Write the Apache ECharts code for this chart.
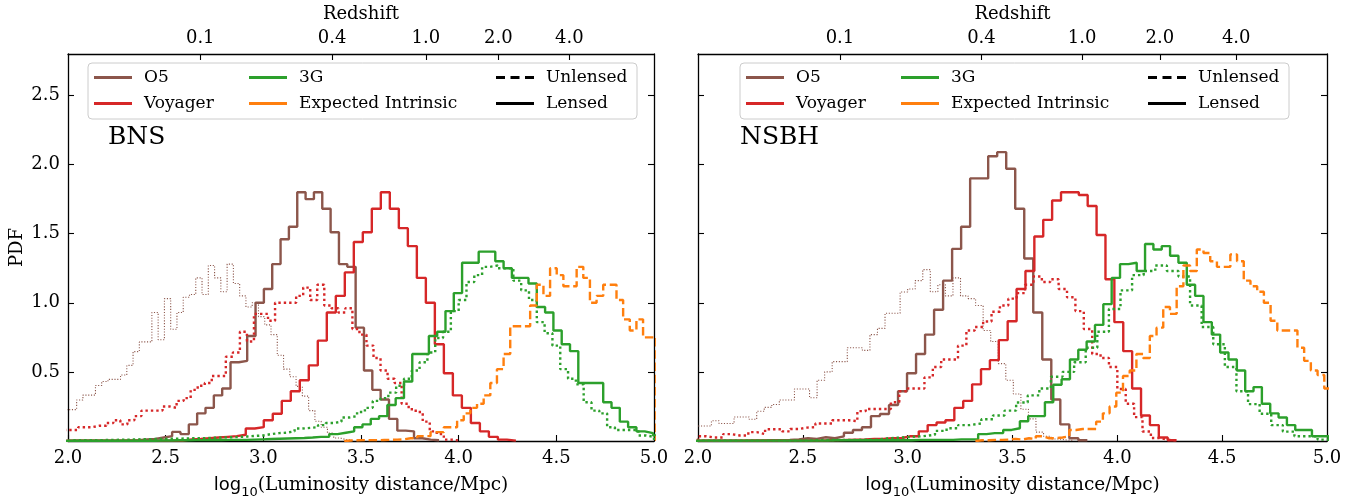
<!DOCTYPE html>
<html><head><meta charset="utf-8">
<script src="https://cdn.jsdelivr.net/npm/echarts@6/dist/echarts.min.js"></script>
<style>html,body{margin:0;padding:0;background:#fff}#c{width:1364px;height:504px}</style>
</head><body><div id="c"></div><script>
// ---------- axis / tick data ----------
const yTickValues = [0.5, 1.0, 1.5, 2.0, 2.5];
const redshiftLabels = ['0.1', '0.4', '1.0', '2.0', '4.0'];
const redshiftPositions = [2.677, 3.352, 3.832, 4.203, 4.567];
const panelNames = ['BNS', 'NSBH'];

// ---------- histogram data: bins = [first edge, bin width], values = PDF per bin ----------
// BNS
const bnsO5LensedBins = [1.978, 0.0427];
const bnsO5Lensed = [0.002,0.002,0.002,0.002,0.002,0.002,0.002,0.004,0.006,0.012,0.015,0.025,0.035,0.066,0.05,0.12,0.20,0.24,0.33,0.38,0.57,0.58,0.76,1.0,1.10,1.28,1.46,1.55,1.80,1.75,1.80,1.68,1.51,1.28,1.26,0.82,0.51,0.37,0.30,0.16,0.075,0.07,0.02,0.01,0.005];
const bnsO5UnlensedBins = [1.98, 0.0321];
const bnsO5Unlensed = [0.227,0.227,0.297,0.332,0.332,0.402,0.43,0.446,0.446,0.477,0.547,0.647,0.717,0.717,0.93,0.733,1.03,0.808,0.93,1.04,1.06,1.18,1.06,1.27,1.18,1.08,1.28,1.14,1.05,0.97,1.0,0.90,0.84,0.77,0.62,0.52,0.465,0.395,0.325,0.22,0.143,0.10,0.057,0.022,0.01,0.005];
const bnsVoyLensedBins = [1.988, 0.0461];
const bnsVoyLensed = [0.003,0.003,0.003,0.003,0.003,0.003,0.003,0.003,0.003,0.003,0.003,0.003,0.003,0.012,0.015,0.02,0.025,0.03,0.035,0.045,0.09,0.10,0.15,0.197,0.29,0.36,0.44,0.547,0.726,0.93,1.05,1.22,1.44,1.51,1.68,1.80,1.68,1.54,1.41,1.18,1.0,0.70,0.49,0.33,0.24,0.13,0.07,0.03,0.01,0.003];
const bnsVoyUnlensedBins = [1.98, 0.036];
const bnsVoyUnlensed = [0.08,0.08,0.10,0.10,0.11,0.11,0.13,0.15,0.12,0.15,0.18,0.22,0.22,0.22,0.25,0.24,0.29,0.31,0.37,0.40,0.42,0.47,0.47,0.61,0.64,0.79,0.72,0.92,0.92,0.87,1.0,1.0,1.0,1.05,1.11,1.02,1.13,0.98,0.96,0.93,0.96,0.81,0.77,0.69,0.60,0.51,0.45,0.42,0.27,0.23,0.21,0.14,0.07,0.05,0.01,0.005];
const bns3GLensedBins = [1.9775, 0.0425];
const bns3GLensed = [0.002,0.002,0.002,0.002,0.002,0.002,0.002,0.002,0.002,0.002,0.002,0.004,0.004,0.005,0.005,0.006,0.006,0.007,0.007,0.008,0.008,0.008,0.01,0.012,0.014,0.016,0.018,0.02,0.022,0.025,0.03,0.03,0.05,0.06,0.07,0.10,0.12,0.16,0.18,0.26,0.31,0.43,0.63,0.63,0.76,0.79,0.94,1.07,1.29,1.29,1.37,1.37,1.30,1.25,1.18,1.18,1.14,0.97,0.93,0.80,0.70,0.65,0.42,0.42,0.42,0.28,0.24,0.14,0.10,0.07,0.057,0.04];
const bns3GUnlensedBins = [2.0, 0.04];
const bns3GUnlensed = [0.005,0.005,0.005,0.006,0.007,0.008,0.009,0.010,0.012,0.013,0.014,0.015,0.016,0.017,0.018,0.02,0.02,0.022,0.024,0.026,0.027,0.03,0.033,0.037,0.04,0.05,0.057,0.06,0.07,0.09,0.095,0.10,0.115,0.13,0.14,0.17,0.18,0.21,0.24,0.29,0.31,0.35,0.40,0.45,0.51,0.57,0.64,0.745,0.79,0.94,1.02,1.15,1.20,1.26,1.27,1.25,1.25,1.16,1.09,1.02,0.86,0.78,0.69,0.52,0.45,0.41,0.28,0.22,0.20,0.10,0.08,0.08,0.08,0.04,0.03];
const bnsIntrinsicBins = [3.414, 0.034];
const bnsIntrinsic = [0.004,0.005,0.006,0.006,0.006,0.007,0.008,0.01,0.012,0.02,0.02,0.035,0.035,0.064,0.064,0.10,0.10,0.15,0.20,0.24,0.27,0.33,0.42,0.52,0.63,0.83,0.83,0.83,0.98,1.13,1.05,1.25,1.20,1.12,1.12,1.26,1.18,1.0,1.05,1.13,1.13,1.02,0.88,0.80,0.88,0.75,0.75];
// NSBH
const nsbhO5LensedBins = [1.965, 0.043];
const nsbhO5Lensed = [0.002,0.002,0.002,0.003,0.003,0.003,0.004,0.004,0.005,0.005,0.008,0.012,0.02,0.015,0.027,0.02,0.034,0.06,0.08,0.10,0.18,0.195,0.26,0.36,0.49,0.63,0.77,0.95,1.16,1.39,1.55,1.90,1.90,2.06,2.09,1.97,1.68,1.32,0.93,0.59,0.30,0.12,0.02,0.005];
const nsbhO5UnlensedBins = [1.992, 0.036];
const nsbhO5Unlensed = [0.108,0.108,0.146,0.127,0.127,0.174,0.174,0.157,0.215,0.243,0.264,0.297,0.297,0.376,0.376,0.313,0.44,0.50,0.574,0.574,0.675,0.675,0.656,0.77,0.815,0.924,0.924,1.078,1.10,1.16,1.24,1.08,1.13,1.05,1.18,1.05,1.03,0.98,0.80,0.72,0.56,0.44,0.34,0.23,0.16,0.064,0.034,0.015,0.008,0.004];
const nsbhVoyLensedBins = [1.993, 0.0424];
const nsbhVoyLensed = [0.003,0.003,0.003,0.003,0.003,0.003,0.003,0.003,0.003,0.003,0.003,0.003,0.003,0.003,0.005,0.006,0.008,0.01,0.012,0.015,0.015,0.02,0.02,0.034,0.034,0.07,0.115,0.134,0.15,0.24,0.29,0.41,0.52,0.585,0.73,0.866,1.10,1.23,1.48,1.60,1.74,1.80,1.80,1.78,1.70,1.49,1.17,0.86,0.65,0.38,0.185,0.115,0.025,0.005];
const nsbhVoyUnlensedBins = [2.0, 0.04];
const nsbhVoyUnlensed = [0.034,0.025,0.025,0.05,0.04,0.04,0.064,0.05,0.085,0.085,0.07,0.087,0.097,0.10,0.127,0.127,0.15,0.15,0.143,0.216,0.232,0.232,0.232,0.28,0.36,0.38,0.38,0.46,0.535,0.59,0.59,0.69,0.80,0.825,0.865,0.935,0.98,1.03,1.07,1.13,1.19,1.15,1.17,1.10,1.04,0.94,0.81,0.63,0.60,0.535,0.376,0.27,0.173,0.069,0.022,0.01,0.004];
const nsbh3GLensedBins = [1.983, 0.0398];
const nsbh3GLensed = [0.003,0.003,0.003,0.003,0.003,0.003,0.003,0.003,0.003,0.003,0.003,0.003,0.003,0.003,0.003,0.003,0.005,0.005,0.005,0.005,0.005,0.005,0.005,0.005,0.005,0.005,0.008,0.008,0.008,0.008,0.008,0.012,0.012,0.012,0.05,0.057,0.057,0.08,0.092,0.143,0.18,0.18,0.28,0.407,0.447,0.59,0.66,0.72,0.84,0.99,1.18,1.28,1.29,1.23,1.425,1.385,1.41,1.34,1.29,1.13,1.05,0.86,0.77,0.64,0.59,0.51,0.36,0.39,0.27,0.20,0.17,0.115,0.08,0.08,0.034,0.034];
const nsbh3GUnlensedBins = [1.969, 0.0553];
const nsbh3GUnlensed = [0.003,0.003,0.003,0.003,0.003,0.003,0.003,0.003,0.003,0.003,0.006,0.007,0.008,0.008,0.009,0.01,0.02,0.025,0.03,0.035,0.045,0.073,0.092,0.115,0.127,0.157,0.185,0.22,0.279,0.33,0.38,0.465,0.50,0.57,0.675,0.79,0.955,1.09,1.20,1.23,1.27,1.23,1.19,0.98,0.825,0.70,0.535,0.36,0.267,0.197,0.115,0.068,0.034,0.034,0.01];
const nsbhIntrinsicBins = [3.323, 0.032];
const nsbhIntrinsic = [0.005,0.005,0.008,0.008,0.01,0.015,0.01,0.02,0.015,0.034,0.02,0.02,0.025,0.034,0.08,0.087,0.087,0.087,0.14,0.2,0.25,0.35,0.47,0.51,0.63,0.60,0.76,0.82,0.97,0.92,1.12,1.27,1.23,1.385,1.36,1.30,1.26,1.26,1.35,1.30,1.16,1.12,1.08,1.0,0.87,0.80,0.80,0.80,0.675,0.58,0.51,0.477,0.38];

// ---------- styles ----------
const C = {o5: '#8c564b', voy: '#d62728', g3: '#2ca02c', intr: '#ff7f0e'};
const SERIF = 'DejaVu Serif';
const ST = {
  solid: {width: 2.4, type: 'solid'},
  dotted: {width: 2.4, type: [2.4, 3.0]},
  thinDotted: {width: 1.1, type: [1.1, 1.7]},
  dashed: {width: 2.4, type: [8.5, 3.7]}
};

function stepPoints(bins, vals) {
  const s = bins[0], w = bins[1];
  const pts = [[s, 0]];
  for (let i = 0; i < vals.length; i++) pts.push([s + i * w, vals[i]]);
  const end = s + vals.length * w;
  pts.push([end, vals[vals.length - 1]]);
  pts.push([end, 0]);
  return pts;
}
function hist(name, bins, vals, panel, color, style, z) {
  return {
    type: 'line', name: name, xAxisIndex: panel * 2, yAxisIndex: panel * 2,
    data: stepPoints(bins, vals), step: 'end', symbol: 'none', showSymbol: false,
    color: color, lineStyle: {color: color, width: style.width, type: style.type, cap: 'butt'},
    silent: true, animation: false, clip: true, z: z || 2, emphasis: {disabled: true}
  };
}

const series = [
  hist('O5', bnsO5LensedBins, bnsO5Lensed, 0, C.o5, ST.solid),
  hist('O5 unlensed', bnsO5UnlensedBins, bnsO5Unlensed, 0, C.o5, ST.thinDotted),
  hist('Voyager', bnsVoyLensedBins, bnsVoyLensed, 0, C.voy, ST.solid),
  hist('Voyager unlensed', bnsVoyUnlensedBins, bnsVoyUnlensed, 0, C.voy, ST.dotted),
  hist('3G', bns3GLensedBins, bns3GLensed, 0, C.g3, ST.solid),
  hist('3G unlensed', bns3GUnlensedBins, bns3GUnlensed, 0, C.g3, ST.dotted),
  hist('Expected Intrinsic', bnsIntrinsicBins, bnsIntrinsic, 0, C.intr, ST.dashed),
  hist('O5', nsbhO5LensedBins, nsbhO5Lensed, 1, C.o5, ST.solid),
  hist('O5 unlensed', nsbhO5UnlensedBins, nsbhO5Unlensed, 1, C.o5, ST.thinDotted),
  hist('Voyager', nsbhVoyLensedBins, nsbhVoyLensed, 1, C.voy, ST.solid),
  hist('Voyager unlensed', nsbhVoyUnlensedBins, nsbhVoyUnlensed, 1, C.voy, ST.dotted),
  hist('3G', nsbh3GLensedBins, nsbh3GLensed, 1, C.g3, ST.solid),
  hist('3G unlensed', nsbh3GUnlensedBins, nsbh3GUnlensed, 1, C.g3, ST.dotted),
  hist('Expected Intrinsic', nsbhIntrinsicBins, nsbhIntrinsic, 1, C.intr, ST.dashed),
  {type: 'line', name: 'Unlensed', data: [], color: '#000', xAxisIndex: 0, yAxisIndex: 0, symbol: 'none'},
  {type: 'line', name: 'Lensed', data: [], color: '#000', xAxisIndex: 0, yAxisIndex: 0, symbol: 'none'}
];

// ---------- layout ----------
const grids = [
  {left: 68, top: 47, width: 586, height: 400},
  {left: 698, top: 47, width: 629, height: 400}
];
const axisLineStyle = {color: '#000', width: 1.3};
const tickStyle = {color: '#000', width: 1.1};
const xAxes = [], yAxes = [];
grids.forEach((g, p) => {
  xAxes.push({
    gridIndex: p, type: 'value', position: 'bottom', min: 2, max: 5, interval: 0.5,
    axisLine: {show: true, onZero: false, lineStyle: axisLineStyle},
    axisTick: {show: true, inside: true, length: 6, lineStyle: tickStyle},
    axisLabel: {show: true, margin: 8, color: '#000', fontFamily: SERIF, fontSize: 18,
      formatter: v => v.toFixed(1)},
    splitLine: {show: false},
    name: '{a|log}{b|10}{c|(Luminosity distance/Mpc)}', nameLocation: 'middle', nameGap: 31,
    nameTextStyle: {rich: {
      a: {fontFamily: 'DejaVu Sans', fontSize: 18, color: '#000', lineHeight: 27, verticalAlign: 'middle'},
      b: {fontFamily: 'DejaVu Sans', fontSize: 13, color: '#000', lineHeight: 27, verticalAlign: 'bottom'},
      c: {fontFamily: SERIF, fontSize: 18.5, color: '#000', lineHeight: 27, verticalAlign: 'middle'}
    }}
  });
  xAxes.push({
    gridIndex: p, type: 'value', position: 'top', min: 2, max: 5,
    axisLine: {show: true, onZero: false, lineStyle: axisLineStyle},
    axisTick: {show: true, inside: true, length: 6, lineStyle: tickStyle, customValues: redshiftPositions},
    axisLabel: {show: true, margin: 7, color: '#000', fontFamily: SERIF, fontSize: 18,
      customValues: redshiftPositions,
      formatter: v => {
        const i = redshiftPositions.findIndex(q => Math.abs(q - v) < 1e-6);
        return i >= 0 ? redshiftLabels[i] : '';
      }},
    splitLine: {show: false},
    name: 'Redshift', nameLocation: 'middle', nameGap: 31,
    nameTextStyle: {fontFamily: SERIF, fontSize: 18, color: '#000'}
  });
  yAxes.push({
    gridIndex: p, type: 'value', position: 'left', min: 0, max: 2.8,
    axisLine: {show: true, onZero: false, lineStyle: axisLineStyle},
    axisTick: {show: true, inside: true, length: 6, lineStyle: tickStyle, customValues: yTickValues},
    axisLabel: {show: p === 0, margin: 8, color: '#000', fontFamily: SERIF, fontSize: 18,
      customValues: yTickValues, formatter: v => v.toFixed(1)},
    splitLine: {show: false},
    name: p === 0 ? 'PDF' : '', nameLocation: 'middle', nameGap: 42, nameRotate: 90,
    nameTextStyle: {fontFamily: SERIF, fontSize: 18, color: '#000'}
  });
  yAxes.push({
    gridIndex: p, type: 'value', position: 'right', min: 0, max: 2.8,
    axisLine: {show: true, onZero: false, lineStyle: axisLineStyle},
    axisTick: {show: true, inside: true, length: 6, lineStyle: tickStyle, customValues: yTickValues},
    axisLabel: {show: false, customValues: yTickValues},
    splitLine: {show: false}
  });
});

// ---------- legends ----------
const solidIcon = 'path://M0,0h38v3h-38z';
const dashIcon = 'path://M0,0h9v3h-9zM14.5,0h9v3h-9zM29,0h9v3h-9z';
const legendCols = [
  {names: ['O5', 'Voyager'], dx: 6},
  {names: ['3G', 'Expected Intrinsic'], dx: 161},
  {names: ['Unlensed', 'Lensed'], dx: 408}
];
const legendBoxes = [{x: 88, y: 63, w: 549, h: 56}, {x: 740, y: 63, w: 549, h: 56}];
const legends = [];
legendBoxes.forEach(b => {
  legendCols.forEach(col => {
    legends.push({
      orient: 'vertical', left: b.x + col.dx - 5, top: 68 - 5,
      itemWidth: 38, itemHeight: 3, itemGap: 7, symbolKeepAspect: false,
      selectedMode: false,
      data: col.names.map(n => ({name: n, icon: n === 'Unlensed' ? dashIcon : solidIcon})),
      textStyle: {fontFamily: SERIF, fontSize: 17, color: '#000', padding: [0, 0, 0, 7], lineHeight: 19}
    });
  });
});

const chart = echarts.init(document.getElementById('c'), null, {renderer: 'canvas'});
chart.setOption({
  animation: false,
  backgroundColor: '#fff',
  grid: grids,
  xAxis: xAxes,
  yAxis: yAxes,
  legend: legends,
  title: panelNames.map((t, i) => ({
    text: t, left: (i === 0 ? 108 : 740) - 5, top: 125 - 5,
    textStyle: {fontFamily: SERIF, fontSize: 25, fontWeight: 'normal', color: '#000'}
  })),
  graphic: legendBoxes.map(b => ({
    type: 'rect', z: 3, silent: true,
    shape: {x: b.x, y: b.y, width: b.w, height: b.h, r: 4},
    style: {fill: 'rgba(255,255,255,0.85)', stroke: '#cccccc', lineWidth: 1}
  })),
  series: series
});
</script></body></html>
